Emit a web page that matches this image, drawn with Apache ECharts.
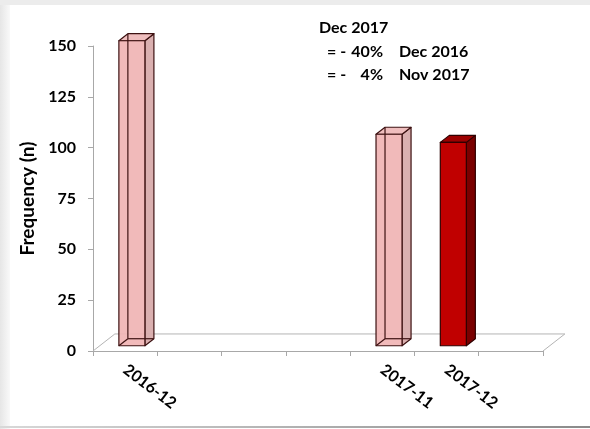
<!DOCTYPE html>
<html>
<head>
<meta charset="utf-8">
<script src="https://cdn.jsdelivr.net/npm/echarts@6/dist/echarts.min.js"></script>
<style>
  html, body { margin: 0; padding: 0; background: #ffffff; }
  #chart { width: 590px; height: 429px; }
</style>
</head>
<body>
<div id="chart"></div>
<script>
// Monthly frequency counts (months without a bar keep an empty slot on the axis)
const categories = ['2016-12', '', '', '', '2017-11', '2017-12', ''];
const frequency = [150, null, null, null, 104, 100, null];
const currentMonth = '2017-12';
const yTicks = [0, 25, 50, 75, 100, 125, 150];

const noteTitle = 'Dec 2017';
const notePercents = ['40%', '4%'];
const noteMonths = ['Dec 2016', 'Nov 2017'];

const FONT = 'Lato, "Liberation Sans", sans-serif';

const barData = [];
categories.forEach((c, i) => {
  if (frequency[i] != null) barData.push([i, frequency[i], c === currentMonth ? 1 : 0]);
});

// A prism drawn in fake perspective: front face, right side, top
function renderBar(params, api) {
  const i = api.value(0), v = api.value(1), solid = api.value(2) === 1;
  const base = api.coord([i, 0]);
  const top = api.coord([i, v]);
  const band = api.size([1, 0])[0];
  const w = band * 0.405;
  const ox = band * 0.105, oy = -band * 0.082;
  const dx = band * 0.14, dy = -band * 0.109;
  const xl = base[0] - w / 2 + ox, xr = xl + w;
  const yb = base[1] + oy, yt = top[1] + oy;
  const FLB = [xl, yb], FRB = [xr, yb], FRT = [xr, yt], FLT = [xl, yt];
  const BLB = [xl + dx, yb + dy], BRB = [xr + dx, yb + dy];
  const BRT = [xr + dx, yt + dy], BLT = [xl + dx, yt + dy];
  const edge = solid ? '#2e0000' : '#3d1212';
  const lw = 1.2;
  const poly = (pts, fill) => ({
    type: 'polygon', shape: { points: pts },
    style: { fill: fill, stroke: edge, lineWidth: lw, lineJoin: 'round' }
  });
  const line = (a, b) => ({
    type: 'line', shape: { x1: a[0], y1: a[1], x2: b[0], y2: b[1] },
    style: { stroke: edge, lineWidth: lw }
  });
  const children = [];
  if (solid) {
    children.push(poly([FRB, BRB, BRT, FRT], '#7a0000'));
    children.push(poly([FLT, FRT, BRT, BLT], '#9c0000'));
    children.push(poly([FLB, FRB, FRT, FLT], '#c00000'));
  } else {
    children.push(poly([FRB, BRB, BRT, FRT], 'rgba(216,172,172,0.95)'));
    children.push(poly([FLT, FRT, BRT, BLT], 'rgba(238,186,186,0.95)'));
    children.push(poly([FLB, FRB, FRT, FLT], 'rgba(240,180,180,0.92)'));
    // see-through hidden edges
    children.push(line(BLB, BLT));
    children.push(line(BLB, BRB));
    children.push(line(FLB, BLB));
  }
  return { type: 'group', children: children };
}

// Back edge and sides of the chart floor
function renderFloor(params, api) {
  const cs = params.coordSys;
  const band = api.size([1, 0])[0];
  const dx = band * 0.34, dy = -band * 0.265;
  const x0 = cs.x, x1 = cs.x + cs.width, y = cs.y + cs.height;
  const st = { stroke: '#b4b4b4', lineWidth: 1, fill: null };
  return {
    type: 'group',
    children: [
      { type: 'polyline', shape: { points: [[x0, y], [x0 + dx, y + dy], [x1 + dx, y + dy], [x1, y]] }, style: st }
    ]
  };
}

const chart = echarts.init(document.getElementById('chart'), null, { renderer: 'canvas' });
chart.setOption({
  backgroundColor: '#ffffff',
  animation: false,
  grid: { left: 93, right: 47, top: 46, bottom: 78, containLabel: false },
  xAxis: {
    type: 'category',
    data: categories,
    axisLine: { show: true, lineStyle: { color: '#a8a8a8', width: 1 } },
    axisTick: { show: true, interval: 0, length: 5, lineStyle: { color: '#a8a8a8' } },
    axisLabel: {
      interval: 0, rotate: -37, margin: 17,
      fontFamily: FONT, fontWeight: 'bold', fontSize: 16, color: '#000'
    },
    splitLine: { show: false }
  },
  yAxis: {
    type: 'value',
    min: yTicks[0], max: yTicks[yTicks.length - 1], interval: yTicks[1] - yTicks[0],
    name: 'Frequency (n)', nameLocation: 'middle', nameGap: 50, nameRotate: 90,
    nameTextStyle: { fontFamily: FONT, fontWeight: 'bold', fontSize: 19, color: '#000' },
    axisLine: { show: true, lineStyle: { color: '#a8a8a8', width: 1 } },
    axisTick: { show: true, length: 5, lineStyle: { color: '#a8a8a8' } },
    axisLabel: { margin: 17, fontFamily: FONT, fontWeight: 'bold', fontSize: 16, color: '#000' },
    splitLine: { show: false }
  },
  graphic: [
    // frame around the chart area
    { type: 'rect', left: 0, top: 0, z: -10, shape: { width: 10, height: 429 },
      style: { fill: new echarts.graphic.LinearGradient(0, 0, 1, 0, [
        { offset: 0, color: '#e6e6e6' }, { offset: 1, color: '#f9f9f9' }]) } },
    { type: 'rect', left: 0, top: 0, z: -10, shape: { width: 590, height: 5 },
      style: { fill: '#ececec' } },
    { type: 'rect', left: 0, top: 426, z: -10, shape: { width: 590, height: 2 },
      style: { fill: new echarts.graphic.LinearGradient(0, 0, 1, 0, [
        { offset: 0, color: '#d8d8d8' }, { offset: 1, color: '#8a8a8a' }]) } },
    // comparison note
    { type: 'text', left: 319, top: 20,
      style: { text: noteTitle, font: 'bold 16px ' + FONT, fill: '#000' } },
    { type: 'text', left: 327, top: 44,
      style: { text: '= -', font: 'bold 16px ' + FONT, fill: '#000' } },
    { type: 'text', right: 590 - 383, top: 44,
      style: { text: notePercents[0], font: 'bold 16px ' + FONT, fill: '#000' } },
    { type: 'text', left: 399, top: 44,
      style: { text: noteMonths[0], font: 'bold 16px ' + FONT, fill: '#000' } },
    { type: 'text', left: 327, top: 67,
      style: { text: '= -', font: 'bold 16px ' + FONT, fill: '#000' } },
    { type: 'text', right: 590 - 383, top: 67,
      style: { text: notePercents[1], font: 'bold 16px ' + FONT, fill: '#000' } },
    { type: 'text', left: 399, top: 67,
      style: { text: noteMonths[1], font: 'bold 16px ' + FONT, fill: '#000' } }
  ],
  series: [
    {
      type: 'custom', name: 'floor', z: 1, silent: true,
      renderItem: renderFloor, data: [[0, 0]], encode: { x: 0, y: 1 }, clip: false
    },
    {
      type: 'custom', name: 'Frequency', z: 3,
      renderItem: renderBar, data: barData, encode: { x: 0, y: 1 }, clip: false
    }
  ]
});
</script>
</body>
</html>
